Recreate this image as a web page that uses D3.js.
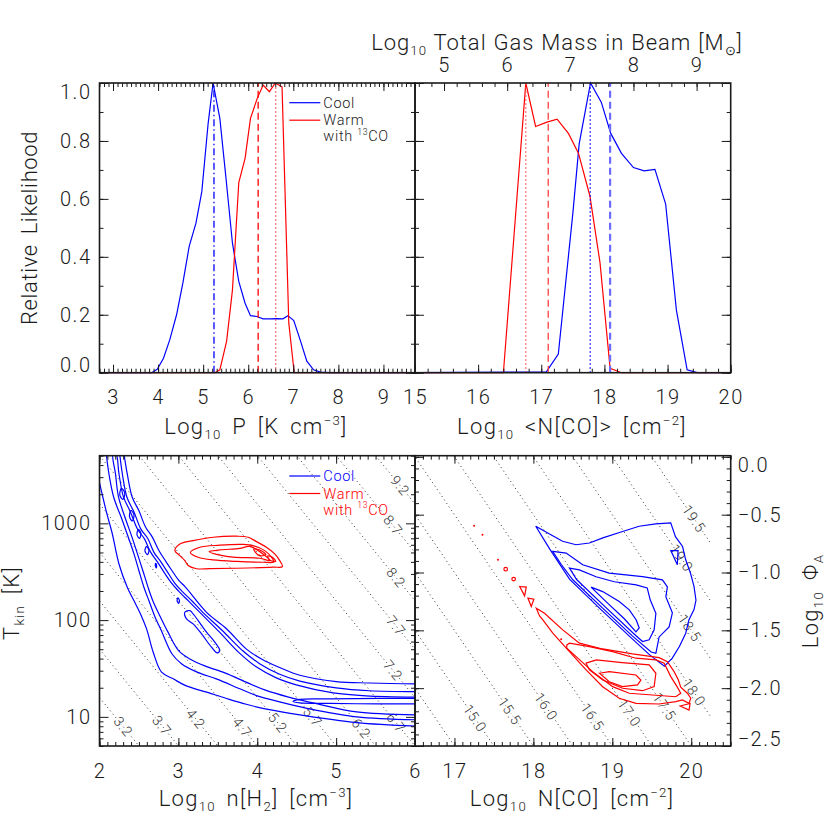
<!DOCTYPE html>
<html>
<head>
<meta charset="utf-8">
<script src="https://cdn.jsdelivr.net/npm/d3@7"></script>
<style>
  body { margin: 0; background: #fff; }
  svg { font-family: Roboto, "Liberation Sans", sans-serif; font-weight: 300; }
</style>
</head>
<body>
<svg id="chart" width="830" height="830"></svg>
<script>
// ---- top panels: marginal likelihoods [value, relative likelihood]
const coolPressure = [[2.7,0],[3.86,0],[3.98,0.012],[4.12,0.05],[4.26,0.114],[4.41,0.2],[4.55,0.31],[4.69,0.436],[4.84,0.516],[4.97,0.625],[5.11,0.86],[5.22,1.0],[5.37,0.878],[5.51,0.666],[5.65,0.447],[5.79,0.315],[5.93,0.24],[6.05,0.197],[6.19,0.194],[6.33,0.186],[6.48,0.186],[6.63,0.187],[6.77,0.186],[6.88,0.197],[7.01,0.18],[7.15,0.114],[7.30,0.04],[7.45,0.01],[7.6,0.002],[7.8,0],[9.7,0]];
const warmPressure = [[2.7,0],[5.26,0],[5.37,0.01],[5.52,0.108],[5.65,0.286],[5.79,0.656],[5.93,0.74],[6.05,0.878],[6.20,0.947],[6.33,0.993],[6.47,0.970],[6.60,1.0],[6.75,0.987],[6.90,0.171],[7.02,0],[9.7,0]];
const coolColumn = [[15,0],[17.08,0.003],[17.27,0.064],[17.38,0.297],[17.50,0.55],[17.60,0.79],[17.78,1.0],[17.95,0.934],[18.10,0.826],[18.27,0.757],[18.46,0.708],[18.63,0.697],[18.80,0.702],[18.97,0.582],[19.14,0.216],[19.31,0.01],[19.47,0],[20,0]];
const warmColumn = [[15,0],[16.40,0],[16.755,1.0],[16.91,0.85],[17.09,0.865],[17.25,0.875],[17.43,0.826],[17.59,0.757],[17.77,0.61],[17.93,0.38],[18.09,0.015],[18.27,0],[20,0]];

const coolPressureMarks = [5.24];          // most likely
const warmPressureMarks = [6.22, 6.61];    // median, most likely
const coolColumnMarks = [17.775, 18.09];   // most likely, median
const warmColumnMarks = [16.755, 17.11];   // most likely, median

const massShift = 10.46;                   // log N[CO] -> log total gas mass
const massTicks = [5, 6, 7, 8, 9];

// ---- bottom left: [log n(H2), log Tkin]
const pressureLevels = [3.2, 3.7, 4.2, 4.7, 5.2, 5.7, 6.2, 6.7, 7.2, 7.7, 8.2, 8.7, 9.2];
const pressureLabelAt = [2.30, 2.79, 3.22, 3.81, 4.26, 4.70, 5.32, 5.76, 5.72, 5.76, 5.76, 5.72, 5.81];

const coolNT1Lower = [[2.0,3.42],[2.09,3.11],[2.16,2.90],[2.247,2.58],[2.352,2.34],[2.458,2.167],[2.52,2.064],[2.597,1.909],[2.681,1.668],[2.787,1.462],[2.934,1.393],[3.10,1.32],[3.36,1.255],[3.61,1.19],[3.86,1.13],[4.12,1.08],[4.54,1.02],[5.26,0.94],[6.0,0.904]];
const coolNT1Upper = [[2.31,3.72],[2.352,3.51],[2.415,3.27],[2.50,3.13],[2.585,2.96],[2.668,2.86],[2.753,2.72],[2.838,2.61],[2.92,2.51],[3.006,2.41],[3.09,2.34],[3.357,2.08],[3.61,1.91],[3.863,1.70],[4.07,1.59],[4.285,1.51],[4.54,1.43],[5.0,1.365],[5.42,1.35],[6.0,1.34]];
const coolNT2Lower = [[2.086,3.717],[2.12,3.51],[2.18,3.27],[2.29,3.03],[2.365,2.856],[2.437,2.684],[2.50,2.51],[2.563,2.34],[2.627,2.20],[2.70,2.04],[2.79,1.88],[2.92,1.65],[3.04,1.55],[3.23,1.465],[3.49,1.39],[3.78,1.29],[3.99,1.22],[4.285,1.155],[4.66,1.083],[5.26,1.0],[6.0,0.97]];
const coolNT2Upper = [[2.256,3.717],[2.29,3.51],[2.348,3.27],[2.437,3.118],[2.525,2.94],[2.614,2.84],[2.69,2.70],[2.78,2.60],[2.867,2.49],[2.956,2.38],[3.044,2.30],[3.17,2.20],[3.31,2.08],[3.56,1.89],[3.82,1.68],[4.03,1.55],[4.285,1.44],[4.54,1.37],[5.0,1.30],[5.42,1.27],[6.0,1.26]];
const coolNT3 = [[6.0,1.021],[5.259,1.052],[4.766,1.134],[4.386,1.207],[4.095,1.279],[3.88,1.351],[3.589,1.455],[3.335,1.527],[3.146,1.599],[3.006,1.682],[2.867,1.878],[2.766,2.043],[2.677,2.198],[2.614,2.343],[2.551,2.508],[2.481,2.684],[2.411,2.86],[2.335,3.035],[2.241,3.273],[2.203,3.51],[2.171,3.717],
                 [2.209,3.717],[2.247,3.51],[2.304,3.273],[2.392,3.118],[2.481,2.942],[2.57,2.839],[2.646,2.705],[2.734,2.601],[2.823,2.488],[2.911,2.384],[3.0,2.302],[3.127,2.198],[3.266,2.085],[3.519,1.878],[3.772,1.661],[3.987,1.517],[4.241,1.403],[4.494,1.331],[4.962,1.248],[5.38,1.217],[6.0,1.204]];
const coolNT4Tongue = [[6.0,1.191],[5.55,1.191],[4.918,1.186],[4.538,1.181],[4.453,1.158],[4.538,1.145],[4.918,1.139],[5.551,1.134],[6.0,1.134]];
const coolNTLoops = [
  [[3.082,2.082],[3.146,2.098],[3.187,2.064],[3.251,1.995],[3.357,1.875],[3.462,1.772],[3.525,1.685],[3.491,1.661],[3.42,1.72],[3.294,1.857],[3.187,1.961],[3.104,2.012]],
  [[2.278,3.361],[2.32,3.314],[2.297,3.247],[2.257,3.293]],
  [[2.399,3.133],[2.437,3.087],[2.415,3.025],[2.38,3.071]],
  [[2.494,2.937],[2.525,2.896],[2.506,2.844],[2.475,2.885]],
  [[2.595,2.759],[2.627,2.725],[2.608,2.677],[2.576,2.715]],
  [[2.711,2.586],[2.724,2.566],[2.72,2.54],[2.707,2.566]],
  [[2.994,2.229],[3.013,2.204],[3.003,2.173],[2.984,2.198]]
];
const warmNT = [
  [[2.956,2.718],[3.019,2.787],[3.187,2.821],[3.441,2.856],[3.737,2.867],[3.884,2.856],[3.99,2.811],[4.116,2.753],[4.222,2.684],[4.285,2.615],[4.319,2.553],[4.20,2.547],[3.737,2.536],[3.399,2.531],[3.23,2.531],[3.124,2.565],[3.082,2.615],[3.019,2.666]],
  [[3.152,2.697],[3.272,2.753],[3.525,2.774],[3.82,2.782],[3.947,2.77],[4.095,2.718],[4.18,2.65],[4.209,2.601],[4.073,2.598],[3.737,2.606],[3.441,2.622],[3.251,2.65]],
  [[3.39,2.708],[3.525,2.725],[3.778,2.741],[3.905,2.761],[4.073,2.684],[4.158,2.615],[4.032,2.639],[3.694,2.65],[3.484,2.679]],
  [[3.956,2.735],[4.057,2.715],[4.108,2.674],[4.019,2.669]],
  [[4.133,2.663],[4.196,2.648],[4.234,2.606],[4.158,2.622]]
];

// ---- bottom right: [log N(CO), log filling factor]
const columnLevels = [14.5, 15.0, 15.5, 16.0, 16.5, 17.0, 17.5, 18.0, 18.5, 19.0, 19.5];
const columnLabelAt = [null, 17.26, 17.70, 18.16, 18.75, 19.215, 19.66, 20.035, 19.98, 19.875, 20.035];
const columnGridEnd = 20.25;

const coolNPhi = [
  [[18.03,-0.60],[18.21,-0.67],[18.37,-0.73],[18.54,-0.76],[18.71,-0.745],[18.88,-0.70],[19.13,-0.645],[19.34,-0.60],[19.55,-0.58],[19.74,-0.57],[19.80,-0.69],[19.89,-0.775],[19.93,-0.89],[19.99,-1.005],[20.035,-1.12],[20.06,-1.24],[20.035,-1.32],[19.97,-1.41],[19.93,-1.525],[19.85,-1.64],[19.76,-1.74],[19.66,-1.81],[19.47,-1.71],[19.215,-1.55],[18.84,-1.31],[18.46,-1.06],[18.21,-0.80]],
  [[18.246,-0.818],[18.415,-0.832],[18.625,-0.933],[18.962,-1.005],[19.383,-1.035],[19.635,-1.063],[19.698,-1.124],[19.678,-1.21],[19.761,-1.349],[19.72,-1.47],[19.593,-1.557],[19.552,-1.698],[19.492,-1.687],[19.253,-1.548],[18.874,-1.306],[18.499,-1.063],[18.356,-0.933]],
  [[18.457,-0.962],[18.583,-0.977],[18.794,-1.037],[19.025,-1.08],[19.303,-1.107],[19.442,-1.133],[19.48,-1.236],[19.552,-1.352],[19.53,-1.496],[19.467,-1.582],[19.383,-1.597],[19.29,-1.54],[18.91,-1.297],[18.55,-1.063]],
  [[18.731,-1.126],[18.878,-1.165],[19.088,-1.251],[19.215,-1.323],[19.303,-1.41],[19.341,-1.479],[19.30,-1.513],[19.152,-1.40],[18.937,-1.262]],
  [[19.741,-0.81],[19.833,-0.81],[19.824,-0.933]]
];
const warmNPhi = [
  [[18.037,-1.308],[18.141,-1.352],[18.372,-1.496],[18.583,-1.611],[18.878,-1.661],[19.256,-1.704],[19.593,-1.736],[19.698,-1.771],[19.783,-1.857],[19.837,-1.929],[19.867,-1.992],[19.951,-2.044],[19.994,-2.087],[19.972,-2.131],[19.888,-2.102],[19.804,-2.117],[19.593,-2.137],[19.299,-2.131],[19.088,-2.087],[18.878,-1.987],[18.668,-1.842],[18.457,-1.684],[18.246,-1.525],[18.12,-1.41],[18.078,-1.375]],
  [[18.423,-1.626],[18.457,-1.611],[18.71,-1.641],[19.004,-1.684],[19.299,-1.741],[19.552,-1.756],[19.657,-1.784],[19.741,-1.90],[19.82,-1.987],[19.867,-2.044],[19.804,-2.074],[19.509,-2.059],[19.215,-2.044],[19.004,-1.987],[18.751,-1.857],[18.542,-1.727],[18.423,-1.655]],
  [[18.668,-1.784],[18.798,-1.756],[19.126,-1.779],[19.467,-1.799],[19.552,-1.871],[19.53,-1.987],[19.383,-2.022],[19.13,-2.001],[18.878,-1.929],[18.71,-1.842]],
  [[18.836,-1.871],[18.962,-1.857],[19.299,-1.886],[19.362,-1.929],[19.32,-1.972],[19.13,-1.987],[18.962,-1.944]],
  [[17.826,-1.121],[17.91,-1.126],[17.889,-1.202]],
  [[17.931,-1.222],[18.006,-1.23],[17.973,-1.294]],
  [[19.859,-2.154],[19.985,-2.132],[19.972,-2.189]]
];
const warmNPhiSpecks = [[17.649,-0.971],[17.75,-1.057]];
const warmNPhiDots = [[17.249,-0.596],[17.355,-0.674],[17.552,-0.89],[18.352,-1.577]];

// ---- layout
const L = 99.5, M = 415, R = 730.7;
const TT = 83, TB = 372.7, BT = 455.7, BB = 746;
const BLUE = '#0000ff', RED = '#ff0000', INK = '#1a1a1a';

const xP = d3.scaleLinear([2.7, 9.7], [L, M]);
const xN = d3.scaleLinear([15, 20], [M, R]);
const xMass = d3.scaleLinear([15 - massShift, 20 - massShift], [M, R]);
const yLike = d3.scaleLinear([0, 1], [TB, TT]);
const xn = d3.scaleLinear([2, 6], [L, M]);
const yT = d3.scaleLog([5, 5000], [BB, BT]);
const xNc = d3.scaleLinear([16.5, 20.5], [M, R]);
const yPhi = d3.scaleLinear([-2.5, 0.01], [BB, BT]);

const svg = d3.select('#chart');
const defs = svg.append('defs');

function clipped(id, x0, y0, x1, y1) {
  defs.append('clipPath').attr('id', id)
    .append('rect').attr('x', x0).attr('y', y0).attr('width', x1 - x0).attr('height', y1 - y0);
  return svg.append('g').attr('clip-path', `url(#${id})`);
}

function rich(sel, size, parts) {
  let shift = 0;
  parts.forEach(([s, k]) => {
    const off = k === 'sub' ? size * 0.22 : k === 'sup' ? -size * 0.42 : 0;
    sel.append('tspan').attr('font-size', k ? size * 0.6 : size).attr('dy', off - shift).text(s);
    shift = off;
  });
  return sel;
}

function range(a, b, step) {
  const out = [];
  for (let i = 0; a + i * step <= b + 1e-9; i++) out.push(+(a + i * step).toFixed(4));
  return out;
}

function ticks(orient, scale, pos, values, len, fmt, pad) {
  const gen = { bottom: d3.axisBottom, top: d3.axisTop, left: d3.axisLeft, right: d3.axisRight }[orient](scale)
    .tickValues(values).tickSize(-len).tickSizeOuter(0).tickPadding(pad || 0)
    .tickFormat(fmt || (() => ''));
  const vertical = orient === 'left' || orient === 'right';
  const g = svg.append('g')
    .attr('transform', vertical ? `translate(${pos},0)` : `translate(0,${pos})`)
    .call(gen);
  g.attr('font-family', null).attr('font-size', 20).attr('letter-spacing', 1.5);
  g.select('.domain').remove();
  g.selectAll('.tick line').attr('stroke', INK).attr('stroke-width', 1);
  g.selectAll('.tick text').attr('fill', INK);
  return g;
}

function frame(x0, y0, x1, y1) {
  svg.append('rect').attr('x', x0).attr('y', y0).attr('width', x1 - x0).attr('height', y1 - y0)
    .attr('fill', 'none').attr('stroke', INK).attr('stroke-width', 1.6);
}

// nudge the end labels of a vertical axis inward, as the original does
function tuckEnds(g) {
  const t = g.selectAll('.tick text').nodes();
  d3.select(t[0]).attr('dy', '-0.05em');
  d3.select(t[t.length - 1]).attr('dy', '0.75em');
}

// ================= top left: pressure =================
const gTL = clipped('c-tl', L, TT - 2, M, TB + 2);
const likeLine = (x) => d3.line().x(d => x(d[0])).y(d => yLike(d[1]));

gTL.append('path').datum(coolPressure).attr('d', likeLine(xP)).attr('fill', 'none').attr('stroke', BLUE).attr('stroke-width', 1.2);
gTL.append('path').datum(warmPressure).attr('d', likeLine(xP)).attr('fill', 'none').attr('stroke', RED).attr('stroke-width', 1.2);

function mark(g, x, v, color, dash, width) {
  g.append('line').attr('x1', x(v)).attr('x2', x(v)).attr('y1', yLike(0)).attr('y2', yLike(1))
    .attr('stroke', color).attr('stroke-width', width || 1.3).attr('stroke-dasharray', dash);
}
mark(gTL, xP, coolPressureMarks[0], BLUE, '7,3,1.5,3');
mark(gTL, xP, warmPressureMarks[0], RED, '7,4');
mark(gTL, xP, warmPressureMarks[1], '#ff5050', '1.5,2.5');

ticks('bottom', xP, TB, range(2.7, 9.7, 0.1), 4);
ticks('bottom', xP, TB, range(3, 9, 1), 8, d3.format('d'), 17);
ticks('top', xP, TT, range(2.7, 9.7, 0.1), 4);
ticks('top', xP, TT, range(3, 9, 1), 8);
ticks('left', yLike, L, range(0, 1, 0.1), 4);
tuckEnds(ticks('left', yLike, L, range(0, 1, 0.2), 9, d3.format('.1f'), 8));
ticks('right', yLike, M, range(0, 1, 0.1), 4);
ticks('right', yLike, M, range(0, 1, 0.2), 9);
frame(L, TT, M, TB);

// legend
function legend(x, y, colored) {
  const items = [[BLUE, 'Cool'], [RED, 'Warm']];
  items.forEach(([c, name], i) => {
    const yy = y + i * 17.5;
    svg.append('line').attr('x1', x).attr('x2', x + 31).attr('y1', yy).attr('y2', yy).attr('stroke', c).attr('stroke-width', 1.2);
    svg.append('text').attr('x', x + 34).attr('y', yy + 5).attr('font-size', 14.5).attr('letter-spacing', 0.7)
      .attr('fill', colored ? c : INK).text(name);
  });
  const t = svg.append('text').attr('x', x + 34).attr('y', y + 17.5 + 21).attr('letter-spacing', 0.7)
    .attr('fill', colored ? RED : INK);
  rich(t, 14.5, [['with  ', ''], ['13', 'sup'], ['CO', '']]);
}
legend(289.3, 102.7, false);

// ================= top right: column density =================
const gTR = clipped('c-tr', M, TT - 2, R, TB + 2);
gTR.append('path').datum(coolColumn).attr('d', likeLine(xN)).attr('fill', 'none').attr('stroke', BLUE).attr('stroke-width', 1.2);
gTR.append('path').datum(warmColumn).attr('d', likeLine(xN)).attr('fill', 'none').attr('stroke', RED).attr('stroke-width', 1.2);
mark(gTR, xN, warmColumnMarks[0], '#ff5050', '1.5,2.5');
mark(gTR, xN, warmColumnMarks[1], '#ff4040', '7,4');
mark(gTR, xN, coolColumnMarks[0], BLUE, '1.5,2.5');
mark(gTR, xN, coolColumnMarks[1], '#6b6bff', '7,4', 2.2);

ticks('bottom', xN, TB, range(15, 20, 0.2), 4);
ticks('bottom', xN, TB, range(15, 20, 1), 8, d3.format('d'), 17);
ticks('top', xMass, TT, range(4.6, 9.4, 0.2).filter(v => v >= 15 - massShift && v <= 20 - massShift), 4);
ticks('top', xMass, TT, massTicks, 8, d3.format('d'), 11);
ticks('left', yLike, M, range(0, 1, 0.1), 4);
ticks('left', yLike, M, range(0, 1, 0.2), 9);
ticks('right', yLike, R, range(0, 1, 0.1), 4);
ticks('right', yLike, R, range(0, 1, 0.2), 9);
frame(M, TT, R, TB);

// ================= bottom left: density / temperature =================
const gBL = clipped('c-bl', L, BT, M, BB);
const ntLine = d3.line().x(d => xn(d[0])).y(d => yT(10 ** d[1])).curve(d3.curveCatmullRom);
const ntLoop = d3.line().x(d => xn(d[0])).y(d => yT(10 ** d[1])).curve(d3.curveCatmullRomClosed);
const angleNT = Math.atan2(yT(10 ** 0) - yT(10 ** 1), xn(3) - xn(2)) * 180 / Math.PI;

pressureLevels.forEach((v, i) => {
  gBL.append('line')
    .attr('x1', xn(2)).attr('y1', yT(10 ** (v - 2)))
    .attr('x2', xn(6)).attr('y2', yT(10 ** (v - 6)))
    .attr('stroke', '#333').attr('stroke-width', 1).attr('stroke-dasharray', '1,3.2');
  const n = pressureLabelAt[i];
  gBL.append('text')
    .attr('transform', `translate(${xn(n)},${yT(10 ** (v - n))}) rotate(${angleNT})`)
    .attr('text-anchor', 'middle').attr('dy', '0.35em').attr('font-size', 14).attr('letter-spacing', 0.8)
    .attr('fill', '#333').attr('stroke', '#fff').attr('stroke-width', 3).attr('paint-order', 'stroke')
    .text(d3.format('.1f')(v));
});

const blueNT = gBL.append('g').attr('fill', 'none').attr('stroke', BLUE).attr('stroke-width', 1.2);
[coolNT1Lower, coolNT1Upper, coolNT2Lower, coolNT2Upper, coolNT3, coolNT4Tongue].forEach(c =>
  blueNT.append('path').datum(c).attr('d', ntLine));
coolNTLoops.forEach(c => blueNT.append('path').datum(c).attr('d', ntLoop));
const redNT = gBL.append('g').attr('fill', 'none').attr('stroke', RED).attr('stroke-width', 1.2);
warmNT.forEach(c => redNT.append('path').datum(c).attr('d', ntLoop));

ticks('bottom', xn, BB, range(2, 6, 0.1), 4);
ticks('bottom', xn, BB, range(2, 6, 1), 8, d3.format('d'), 18);
ticks('top', xn, BT, range(2, 6, 0.1), 4);
ticks('top', xn, BT, range(2, 6, 1), 8);
const logMinor = [5, 6, 7, 8, 9, 20, 30, 40, 50, 60, 70, 80, 90, 200, 300, 400, 500, 600, 700, 800, 900, 2000, 3000, 4000, 5000];
ticks('left', yT, L, logMinor, 4);
ticks('left', yT, L, [10, 100, 1000], 9, d3.format('d'), 8);
ticks('right', yT, M, logMinor, 4);
ticks('right', yT, M, [10, 100, 1000], 9);
frame(L, BT, M, BB);
legend(289.3, 476, true);

// ================= bottom right: column / filling factor =================
const gBR = clipped('c-br', M, BT, R, BB);
const npLoop = d3.line().x(d => xNc(d[0])).y(d => yPhi(d[1])).curve(d3.curveLinearClosed);
const angleNP = Math.atan2(yPhi(-1) - yPhi(0), xNc(18) - xNc(17)) * 180 / Math.PI;

columnLevels.forEach((v, i) => {
  gBR.append('line')
    .attr('x1', xNc(16)).attr('y1', yPhi(v - 16))
    .attr('x2', xNc(columnGridEnd)).attr('y2', yPhi(v - columnGridEnd))
    .attr('stroke', '#333').attr('stroke-width', 1).attr('stroke-dasharray', '1,3.2');
  const n = columnLabelAt[i];
  if (n == null) return;
  gBR.append('text')
    .attr('transform', `translate(${xNc(n)},${yPhi(v - n)}) rotate(${angleNP})`)
    .attr('text-anchor', 'middle').attr('dy', '0.35em').attr('font-size', 14).attr('letter-spacing', 0.8)
    .attr('fill', '#333').attr('stroke', '#fff').attr('stroke-width', 3).attr('paint-order', 'stroke')
    .text(d3.format('.1f')(v));
});

const blueNP = gBR.append('g').attr('fill', 'none').attr('stroke', BLUE).attr('stroke-width', 1.2);
coolNPhi.forEach(c => blueNP.append('path').datum(c).attr('d', npLoop));
const redNP = gBR.append('g').attr('fill', 'none').attr('stroke', RED).attr('stroke-width', 1.2);
warmNPhi.forEach(c => redNP.append('path').datum(c).attr('d', npLoop));
redNP.selectAll('circle.speck').data(warmNPhiSpecks).join('circle').attr('class', 'speck')
  .attr('cx', d => xNc(d[0])).attr('cy', d => yPhi(d[1])).attr('r', 1.8);
gBR.selectAll('circle.dot').data(warmNPhiDots).join('circle').attr('class', 'dot')
  .attr('cx', d => xNc(d[0])).attr('cy', d => yPhi(d[1])).attr('r', 1).attr('fill', RED);

ticks('bottom', xNc, BB, range(16.5, 20.5, 0.1), 4);
ticks('bottom', xNc, BB, range(17, 20, 1), 8, d3.format('d'), 18);
ticks('top', xNc, BT, range(16.5, 20.5, 0.1), 4);
ticks('top', xNc, BT, range(17, 20, 1), 8);
ticks('left', yPhi, M, range(-2.5, 0, 0.1), 4);
ticks('left', yPhi, M, range(-2.5, 0, 0.5), 9);
ticks('right', yPhi, R, range(-2.5, 0, 0.1), 4);
const phiAxis = ticks('right', yPhi, R, range(-2.5, 0, 0.5), 9, d3.format('.1f'), 7);
tuckEnds(phiAxis);
frame(M, BT, R, BB);

// ================= titles =================
function title(x, y, parts, rotate, spacing) {
  const [ls, ws] = spacing || [1.3, 4];
  const t = svg.append('text').attr('text-anchor', 'middle').attr('fill', INK)
    .attr('letter-spacing', ls).attr('word-spacing', ws)
    .attr('transform', `translate(${x},${y})` + (rotate ? ` rotate(${rotate})` : ''));
  rich(t, 22, parts);
  return t;
}
title(256, 434, [['Log', ''], ['10', 'sub'], [' P [K cm', ''], ['−3', 'sup'], [']', '']]);
title(572, 434, [['Log', ''], ['10', 'sub'], [' <N[CO]> [cm', ''], ['−2', 'sup'], [']', '']]);
title(557, 50, [['Log', ''], ['10', 'sub'], [' Total Gas Mass in Beam [M', ''], ['⊙', 'sub'], [']', '']], 0, [1.0, 0.5]);
title(37, 228, [['Relative Likelihood', '']], -90, [0.6, 4]);
title(256, 806, [['Log', ''], ['10', 'sub'], [' n[H', ''], ['2', 'sub'], ['] [cm', ''], ['−3', 'sup'], [']', '']]);
title(572, 806, [['Log', ''], ['10', 'sub'], [' N[CO] [cm', ''], ['−2', 'sup'], [']', '']]);
title(19, 603, [['T', ''], ['kin', 'sub'], [' [K]', '']], -90);
title(818, 601, [['Log', ''], ['10', 'sub'], [' Φ', ''], ['A', 'sub']], -90);
</script>
</body>
</html>
